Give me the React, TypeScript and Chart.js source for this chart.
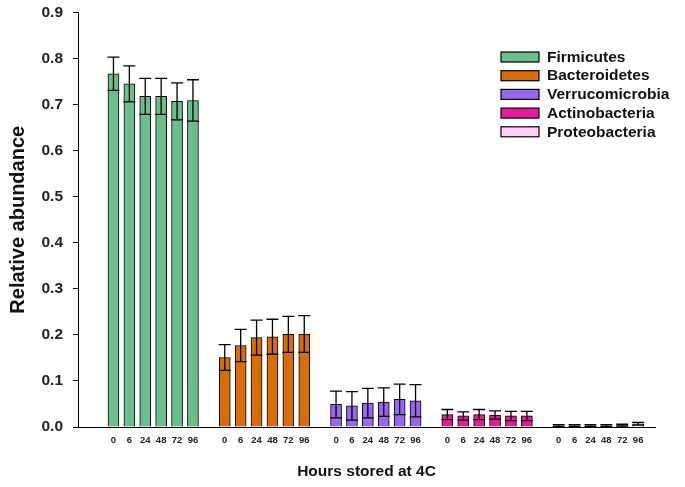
import { useEffect, useRef } from 'react';
import { Chart, registerables } from 'chart.js';

Chart.register(...registerables);

const phyla = ['Firmicutes', 'Bacteroidetes', 'Verrucomicrobia', 'Actinobacteria', 'Proteobacteria'];
const hours = ['0', '6', '24', '48', '72', '96'];

const firmicutes = [0.767, 0.745, 0.718, 0.718, 0.707, 0.709];
const firmicutesErr = [0.036, 0.039, 0.039, 0.039, 0.040, 0.045];
const bacteroidetes = [0.151, 0.177, 0.194, 0.196, 0.201, 0.202];
const bacteroidetesErr = [0.028, 0.035, 0.038, 0.038, 0.039, 0.040];
const verrucomicrobia = [0.049, 0.046, 0.052, 0.054, 0.060, 0.057];
const verrucomicrobiaErr = [0.029, 0.031, 0.032, 0.031, 0.033, 0.035];
const actinobacteria = [0.027, 0.024, 0.027, 0.026, 0.024, 0.024];
const actinobacteriaErr = [0.011, 0.009, 0.011, 0.009, 0.010, 0.010];
const proteobacteria = [0.003, 0.003, 0.003, 0.003, 0.004, 0.007];
const proteobacteriaErr = [0.002, 0.002, 0.002, 0.002, 0.002, 0.003];

const yTickLabels = ['0.0', '0.1', '0.2', '0.3', '0.4', '0.5', '0.6', '0.7', '0.8', '0.9'];

const seriesValues = [firmicutes, bacteroidetes, verrucomicrobia, actinobacteria, proteobacteria];
const seriesErrors = [firmicutesErr, bacteroidetesErr, verrucomicrobiaErr, actinobacteriaErr, proteobacteriaErr];
const colors = ['#6CBE8C', '#D86E08', '#9966EE', '#E8199A', '#FCD0F2'];

const FONT = "'Liberation Sans', Arial, sans-serif";
const SLOTS_PER_GROUP = hours.length + 1;

const errorBarPlugin = {
  id: 'errorBars',
  afterDatasetsDraw(chart: any) {
    const ctx = chart.ctx;
    const yScale = chart.scales.y;
    ctx.save();
    ctx.strokeStyle = '#000';
    ctx.lineWidth = 1.3;
    chart.data.datasets.forEach((ds: any, i: number) => {
      const meta = chart.getDatasetMeta(i);
      meta.data.forEach((bar: any, j: number) => {
        const v = ds.data[j].y;
        const e = ds.errors[j];
        const x = bar.x;
        const half = 6;
        const yt = yScale.getPixelForValue(v + e);
        const yb = yScale.getPixelForValue(Math.max(0, v - e));
        ctx.beginPath();
        ctx.moveTo(x, yt);
        ctx.lineTo(x, yb);
        ctx.moveTo(x - half, yt);
        ctx.lineTo(x + half, yt);
        ctx.moveTo(x - half, yb);
        ctx.lineTo(x + half, yb);
        ctx.stroke();
      });
    });
    ctx.restore();
  },
};

const legendPlugin = {
  id: 'boxLegend',
  afterDraw(chart: any) {
    const ctx = chart.ctx;
    ctx.save();
    const x0 = 501;
    const y0 = 52;
    const pitch = 18.7;
    ctx.font = `bold 15.5px ${FONT}`;
    ctx.textBaseline = 'middle';
    chart.data.datasets.forEach((ds: any, i: number) => {
      const y = y0 + i * pitch;
      ctx.fillStyle = ds.backgroundColor;
      ctx.fillRect(x0, y, 38, 10);
      ctx.strokeStyle = '#000';
      ctx.lineWidth = 1.2;
      ctx.strokeRect(x0, y, 38, 10);
      ctx.fillStyle = '#111';
      ctx.fillText(ds.label, 547, y + 5.5);
    });
    ctx.restore();
  },
};

export default function App() {
  const ref = useRef<HTMLCanvasElement | null>(null);

  useEffect(() => {
    if (!ref.current) return;
    const positions: number[] = [];
    const posLabels: string[] = [];
    phyla.forEach((_, g) => {
      hours.forEach((h, k) => {
        positions.push(g * SLOTS_PER_GROUP + k);
        posLabels.push(h);
      });
    });

    const datasets = phyla.map((name, g) => ({
      label: name,
      data: seriesValues[g].map((v, k) => ({ x: g * SLOTS_PER_GROUP + k, y: v })),
      errors: seriesErrors[g],
      backgroundColor: colors[g],
      borderColor: '#000',
      borderWidth: 1,
      barThickness: 11,
      grouped: false,
    }));

    const chart = new Chart(ref.current, {
      type: 'bar',
      data: { datasets: datasets as any },
      plugins: [errorBarPlugin, legendPlugin],
      options: {
        animation: false,
        responsive: false,
        devicePixelRatio: 1,
        layout: { padding: { top: 12.5, right: 30, left: 0, bottom: 0 } },
        plugins: { legend: { display: false }, tooltip: { enabled: false } },
        scales: {
          x: {
            type: 'linear',
            offset: false,
            min: -2.23,
            max: 34.06,
            grid: { display: false, tickLength: 0 },
            border: { display: true, color: '#000', width: 1 },
            afterBuildTicks: (s: any) => {
              s.ticks = positions.map((p) => ({ value: p }));
            },
            afterFit: (s: any) => {
              s.height = 60;
              s.paddingLeft = 0;
              s.paddingRight = 0;
            },
            ticks: {
              autoSkip: false,
              maxRotation: 0,
              padding: 8,
              color: '#222',
              font: { family: FONT, size: 9.5, weight: 'bold' },
              callback: (v: any) => {
                const idx = positions.indexOf(Number(v));
                return idx >= 0 ? posLabels[idx] : '';
              },
            },
            title: {
              display: true,
              text: 'Hours stored at 4C',
              color: '#111',
              font: { family: FONT, size: 15.5, weight: 'bold' },
              padding: { top: 0, bottom: 6 },
            },
          },
          y: {
            min: 0,
            max: 0.9,
            grid: { drawOnChartArea: false, drawTicks: true, tickLength: 5, color: '#000' },
            border: { display: true, color: '#000', width: 1 },
            afterBuildTicks: (s: any) => {
              s.ticks = yTickLabels.map((_, i) => ({ value: i / 10 }));
            },
            afterFit: (s: any) => {
              s.width = 78;
              s.paddingTop = 0;
              s.paddingBottom = 0;
            },
            ticks: {
              padding: 10,
              color: '#222',
              font: { family: FONT, size: 15.5, weight: 'bold' },
              callback: (v: any) => yTickLabels[Math.round(Number(v) * 10)],
            },
            title: {
              display: true,
              text: 'Relative abundance',
              color: '#111',
              font: { family: FONT, size: 20, weight: 'bold' },
              padding: { top: 6, bottom: 0 },
            },
          },
        },
      },
    });
    return () => chart.destroy();
  }, []);

  return (
    <div style={{ position: 'fixed', left: 0, top: 0, width: 685, height: 487, background: '#fff' }}>
      <canvas ref={ref} width={685} height={487} />
    </div>
  );
}
